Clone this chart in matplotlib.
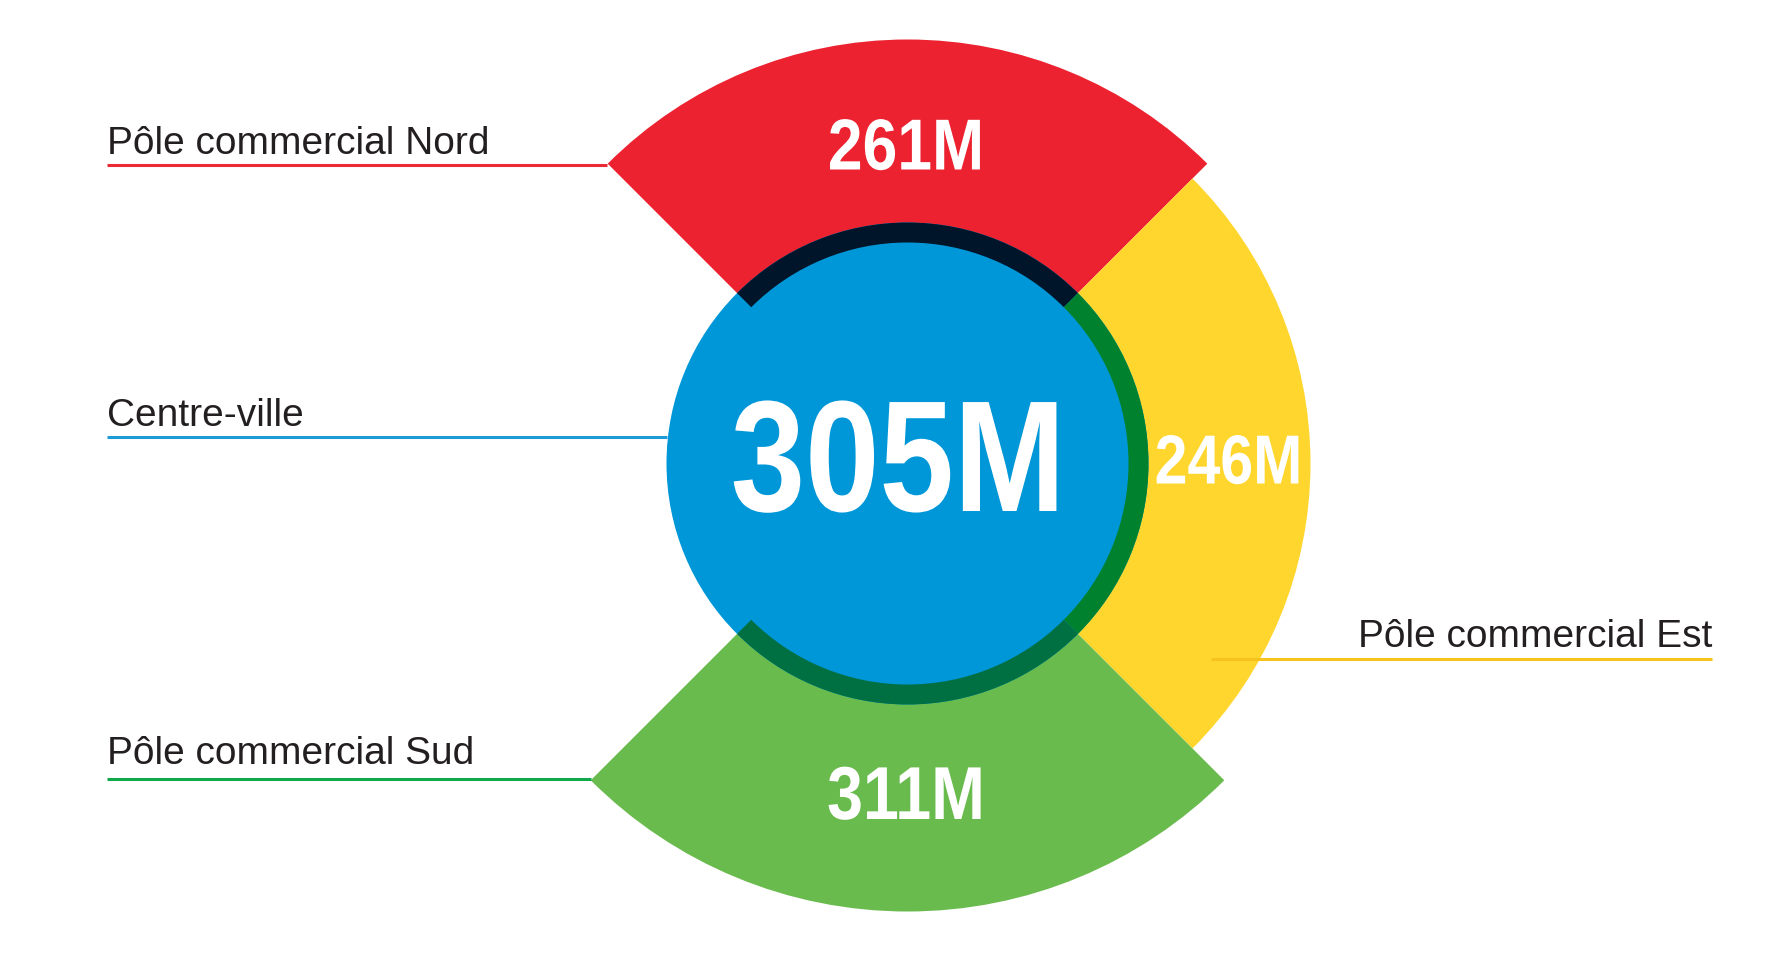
import matplotlib
matplotlib.use("Agg")
import matplotlib.pyplot as plt
from matplotlib.patches import Wedge, Circle
from matplotlib.patheffects import AbstractPathEffect
from matplotlib.transforms import Affine2D
from matplotlib import font_manager

# ---------------- data ----------------
categories = ["Pôle commercial Nord", "Pôle commercial Est", "Pôle commercial Sud"]
values = [261, 246, 311]            # millions
value_labels = [f"{v}M" for v in values]
center_category = "Centre-ville"
center_value = 305
center_label = f"{center_value}M"

# ---------------- layout / style ----------------
W, H = 1772, 967
CX, CY = 907.5, H - 463.5
wedge_angles = [(45, 135), (-45, 45), (225, 315)]      # Nord, Est, Sud
outer_radius = [424, 403, 448]
wedge_colors = ["#EC2230", "#FFD62E", "#6ABB4E"]
ring_colors = ["#00142A", "#00812E", "#006F41"]
line_colors = ["#EC2A36", "#F8C21C", "#10A84A"]
blue = "#0097D8"
line_blue = "#1E9AD6"
R_BLUE = 241
RING_W = 20
text_color = "#231F20"

names = {f.name for f in font_manager.fontManager.ttflist}
lab_family = "Liberation Sans" if "Liberation Sans" in names else "DejaVu Sans"
num_family = lab_family


class CondenseX(AbstractPathEffect):
    """Draw the text glyphs horizontally condensed around x0 (display px)."""
    def __init__(self, sx, x0):
        super().__init__()
        self.sx = sx
        self.x0 = x0

    def draw_path(self, renderer, gc, tpath, affine, rgbFace=None):
        t = affine + Affine2D().translate(-self.x0, 0).scale(self.sx, 1).translate(self.x0, 0)
        renderer.draw_path(gc, tpath, t, rgbFace)


fig = plt.figure(figsize=(W / 100, H / 100), dpi=100)
ax = fig.add_axes([0, 0, 1, 1])
ax.set_xlim(0, W)
ax.set_ylim(0, H)
ax.axis("off")


def py(y):  # pixel-from-top to data y
    return H - y


# outer wedges
for (t1, t2), r, c in zip(wedge_angles, outer_radius, wedge_colors):
    ax.add_patch(Wedge((CX, CY), r, t1, t2, facecolor=c, edgecolor="none", lw=0))

# centre disc
ax.add_patch(Circle((CX, CY), R_BLUE, facecolor=blue, edgecolor="none", lw=0))

# inner rings
for (t1, t2), c in zip(wedge_angles, ring_colors):
    ax.add_patch(Wedge((CX, CY), R_BLUE, t1, t2, width=RING_W,
                       facecolor=c, edgecolor="none", lw=0))

# leader lines
lw = 2.2
ax.plot([107, 607], [py(165), py(165)], color=line_colors[0], lw=lw, solid_capstyle="butt")
ax.plot([107, 667], [py(437), py(437)], color=line_blue, lw=lw, solid_capstyle="butt")
ax.plot([107, 591], [py(779), py(779)], color=line_colors[2], lw=lw, solid_capstyle="butt")
ax.plot([1211, 1712], [py(659), py(659)], color=line_colors[1], lw=lw, solid_capstyle="butt")

# category labels
fs_lab = 28
ax.text(107, py(154), categories[0], fontsize=fs_lab, family=lab_family,
        color=text_color, ha="left", va="baseline")
ax.text(107, py(426), center_category, fontsize=fs_lab, family=lab_family,
        color=text_color, ha="left", va="baseline")
ax.text(107, py(764), categories[2], fontsize=fs_lab, family=lab_family,
        color=text_color, ha="left", va="baseline")
ax.text(1712, py(647), categories[1], fontsize=fs_lab, family=lab_family,
        color=text_color, ha="right", va="baseline")


# value labels (bold, condensed)
def num_text(x, y_px, s, fs, sx):
    x0 = ax.transData.transform((x, 0))[0]
    ax.text(x, py(y_px), s, fontsize=fs, color="white", family=num_family,
            weight="bold", ha="center", va="baseline",
            path_effects=[CondenseX(sx, x0)])


num_text(906, 169.5, value_labels[0], 52, 0.865)
num_text(1228.5, 483.5, value_labels[1], 50, 0.85)
num_text(906, 819, value_labels[2], 54, 0.86)
num_text(898, 511, center_label, 114, 0.845)

fig.savefig("out.png", dpi=100, facecolor="white")
